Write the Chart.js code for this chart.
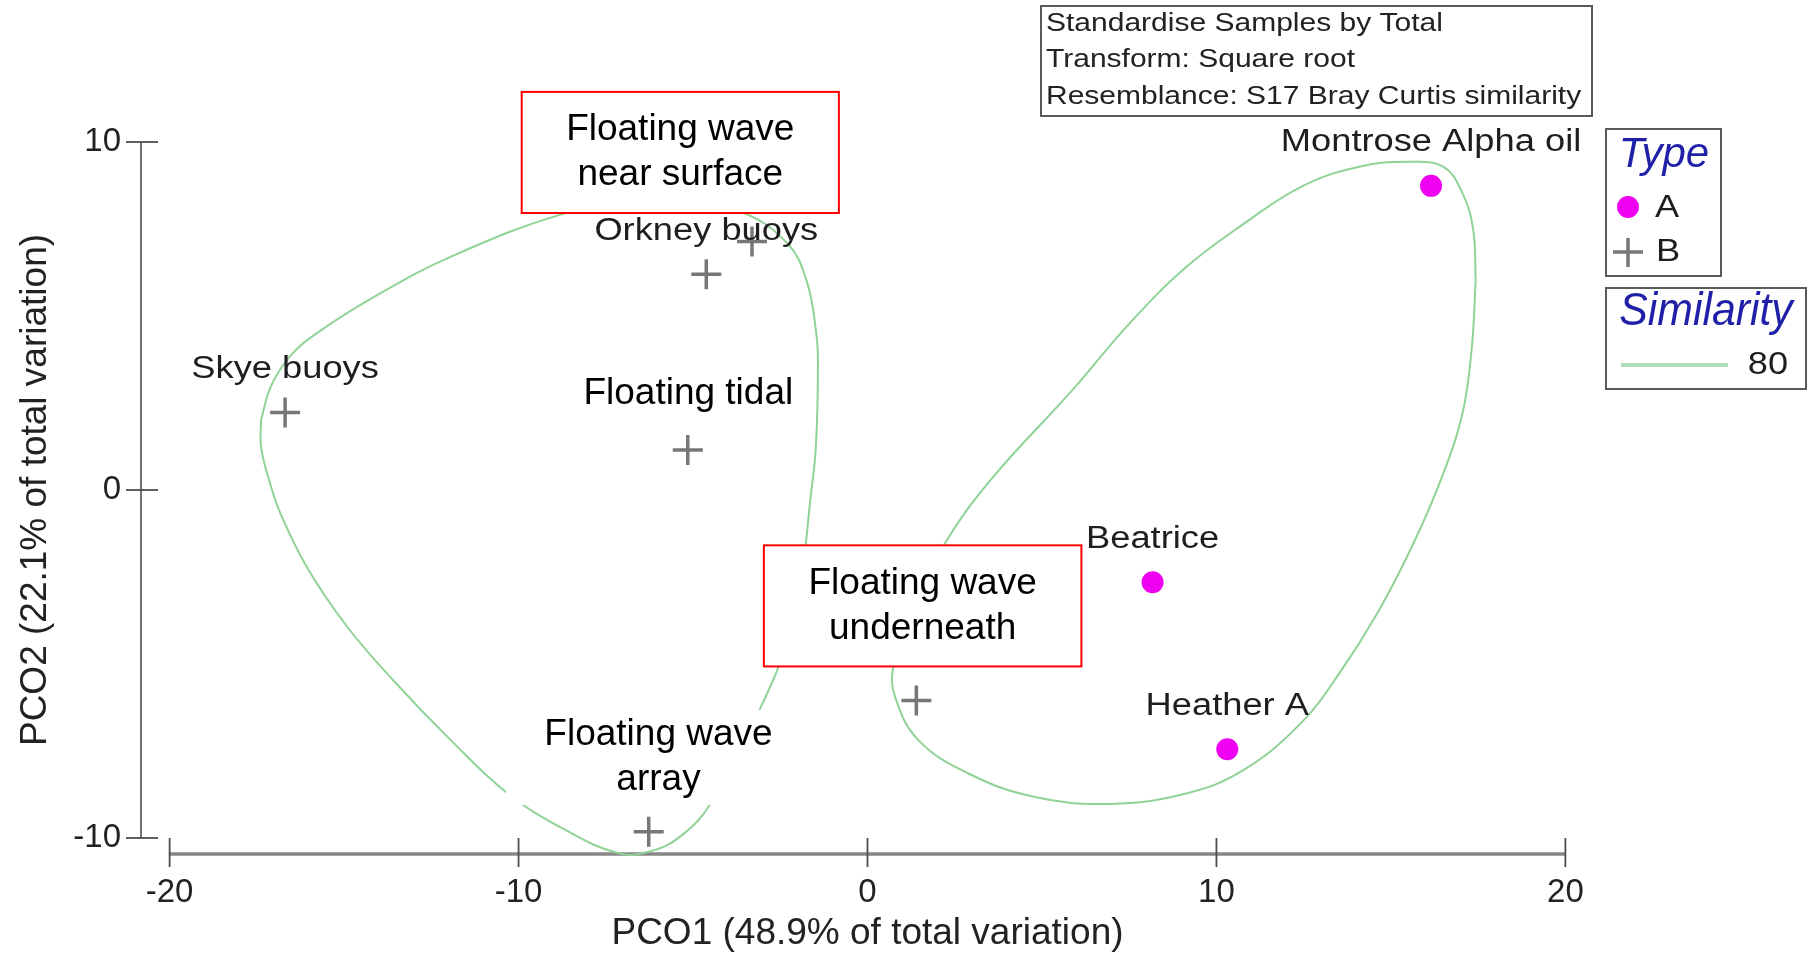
<!DOCTYPE html>
<html lang="en">
<head>
  <meta charset="UTF-8" />
  <title>PCO ordination</title>
  <style>
    html, body { margin: 0; padding: 0; background: #fff; }
    #wrap { width: 1808px; height: 956px; position: relative; }
  </style>
  <script src="https://cdn.jsdelivr.net/npm/chart.js@4"></script>
</head>
<body>
  <div id="wrap"><canvas id="pco"></canvas></div>
  <script>
    // axis ticks and titles
    const xTicks = [-20, -10, 0, 10, 20];
    const yTicks = [-10, 0, 10];
    const xTitle = 'PCO1 (48.9% of total variation)';
    const yTitle = 'PCO2 (22.1% of total variation)';

    // Type A samples (magenta dots)
    const typeANames = ['Montrose Alpha oil', 'Beatrice', 'Heather A'];
    const typeAX = [16.15, 8.17, 10.31];
    const typeAY = [8.74, -2.65, -7.45];

    // Type B samples (grey crosses) - the unnamed ones have their labels hidden by the added boxes
    const typeBNames = ['Skye buoys', 'Orkney buoys', '', '', '', ''];
    const typeBX = [-16.69, -4.62, -3.31, -5.15, -6.27, 1.40];
    const typeBY = [2.23, 6.20, 7.14, 1.15, -9.82, -6.05];

    // 80% similarity outlines (first point repeated to close)
    const leftRingX = [-17.38, -17.38, -17.15, -16.83, -16.07, -14.91, -13.60, -11.95, -10.31, -8.66, -7.13, -6.25, -5.37, -4.49, -2.96, -2.30, -1.86, -1.64, -1.48, -1.42, -1.48, -1.75, -2.30, -3.63, -5.35, -7.07, -8.67, -11.95, -14.14, -15.79, -16.56, -17.10, -17.38];
    const leftRingY = [2.01, 1.24, 0.29, -0.66, -2.21, -3.93, -5.46, -7.18, -8.72, -9.77, -10.44, -10.39, -9.96, -9.00, -6.03, -4.31, -2.20, -0.29, 1.24, 3.65, 4.60, 6.03, 7.09, 7.99, 8.19, 8.13, 7.95, 6.70, 5.55, 4.50, 3.83, 2.97, 2.01];
    const rightRingX = [17.43, 17.32, 17.05, 16.43, 15.60, 14.61, 13.52, 12.42, 10.77, 9.13, 6.94, 4.74, 2.88, 1.45, 0.79, 0.74, 1.24, 2.22, 3.53, 5.87, 7.51, 9.15, 10.80, 12.44, 14.09, 15.51, 16.50, 17.05, 17.36, 17.43];
    const rightRingY = [6.03, 4.12, 2.20, 0.29, -1.63, -3.54, -5.27, -6.70, -8.05, -8.72, -9.02, -8.81, -8.14, -7.18, -5.94, -5.08, -3.45, -1.53, 0.29, 2.87, 4.79, 6.42, 7.66, 8.72, 9.29, 9.43, 9.29, 8.53, 7.47, 6.03];

    // boxes pasted over the plot (corners in data units)
    const notes = [
      { lines: ['Floating wave', 'near surface'], from: [-9.91, 11.44], to: [-0.82, 7.96], edge: '#ff0000' },
      { lines: ['Floating tidal'], from: [-8.79, 3.65], to: [-1.48, 1.87], edge: null },
      { lines: ['Floating wave', 'array'], from: [-10.36, -6.32], to: [-1.62, -9.05], edge: null },
      { lines: ['Floating wave', 'underneath'], from: [-2.97, -1.59], to: [6.13, -5.07], edge: '#ff0000' }
    ];
    const infoLines = ['Standardise Samples by Total', 'Transform: Square root', 'Resemblance: S17 Bray Curtis similarity'];

    const FONT = "'Liberation Sans', Arial, Helvetica, sans-serif";
    const MAGENTA = '#f000f0';
    const CROSS = '#777777';
    const RING = '#8fd396';
    const LEGEND_BLUE = '#1f1fa8';

    const toPoints = (xs, ys) => xs.map((v, i) => ({ x: v, y: ys[i] }));

    // text drawn a little wider than the font, like the exported plot
    function wideText(ctx, text, x, y, size, sx, align, style) {
      ctx.save();
      ctx.translate(x, y);
      ctx.scale(sx, 1);
      ctx.font = (style || '') + ' ' + size + 'px ' + FONT;
      ctx.textAlign = align || 'center';
      ctx.textBaseline = 'middle';
      ctx.fillText(text, 0, 0);
      ctx.restore();
    }

    const decor = {
      id: 'pcoDecor',
      beforeDatasetsDraw(chart) {
        const { ctx, chartArea, scales: { x, y } } = chart;
        ctx.save();
        // x axis line
        ctx.strokeStyle = '#878787';
        ctx.lineWidth = 3.5;
        ctx.beginPath();
        ctx.moveTo(x.getPixelForValue(xTicks[0]), chartArea.bottom);
        ctx.lineTo(x.getPixelForValue(xTicks[xTicks.length - 1]), chartArea.bottom);
        ctx.stroke();
        // y axis line
        ctx.strokeStyle = '#707070';
        ctx.lineWidth = 2;
        ctx.beginPath();
        ctx.moveTo(chartArea.left, y.getPixelForValue(yTicks[yTicks.length - 1]));
        ctx.lineTo(chartArea.left, y.getPixelForValue(yTicks[0]));
        ctx.stroke();
        // tick marks cross the axis lines
        ctx.strokeStyle = '#4d4d4d';
        ctx.lineWidth = 1.8;
        xTicks.forEach(v => {
          const px = x.getPixelForValue(v);
          ctx.beginPath();
          ctx.moveTo(px, chartArea.bottom - 16);
          ctx.lineTo(px, chartArea.bottom + 13);
          ctx.stroke();
        });
        yTicks.forEach(v => {
          const py = y.getPixelForValue(v);
          ctx.beginPath();
          ctx.moveTo(chartArea.left - 15, py);
          ctx.lineTo(chartArea.left + 17, py);
          ctx.stroke();
        });
        ctx.restore();
      },
      afterDatasetsDraw(chart) {
        const { ctx, scales: { x, y } } = chart;
        ctx.save();
        // sample labels above the symbols
        ctx.fillStyle = '#1e1e1e';
        [[0, typeANames], [1, typeBNames]].forEach(([idx, names]) => {
          chart.getDatasetMeta(idx).data.forEach((pt, i) => {
            if (names[i]) wideText(ctx, names[i], pt.x, pt.y - 43, 31, 1.17, 'center');
          });
        });
        // pasted text boxes
        notes.forEach(n => {
          const x1 = x.getPixelForValue(n.from[0]), x2 = x.getPixelForValue(n.to[0]);
          const y1 = y.getPixelForValue(n.from[1]), y2 = y.getPixelForValue(n.to[1]);
          ctx.fillStyle = '#ffffff';
          ctx.fillRect(x1, y1, x2 - x1, y2 - y1);
          if (n.edge) {
            ctx.strokeStyle = n.edge;
            ctx.lineWidth = 2;
            ctx.strokeRect(x1, y1, x2 - x1, y2 - y1);
          }
          ctx.fillStyle = '#000000';
          const cx = (x1 + x2) / 2, cy = (y1 + y2) / 2, lh = 45;
          n.lines.forEach((t, i) => {
            wideText(ctx, t, cx, cy + (i - (n.lines.length - 1) / 2) * lh, 37, 1, 'center');
          });
        });
        ctx.restore();
      },
      afterDraw(chart) {
        const { ctx } = chart;
        ctx.save();
        ctx.strokeStyle = '#5a5a5a';
        ctx.lineWidth = 2;
        // transform/resemblance note
        ctx.fillStyle = '#fff';
        ctx.fillRect(1041, 6, 551, 110);
        ctx.strokeRect(1041, 6, 551, 110);
        ctx.fillStyle = '#222';
        infoLines.forEach((t, i) => wideText(ctx, t, 1046, 24 + i * 36.5, 25, 1.2, 'left'));

        // Type legend
        ctx.strokeRect(1606, 129, 115, 147);
        ctx.fillStyle = LEGEND_BLUE;
        wideText(ctx, 'Type', 1664, 155, 42, 1, 'center', 'italic');
        ctx.fillStyle = MAGENTA;
        ctx.beginPath();
        ctx.arc(1628, 207, 11, 0, Math.PI * 2);
        ctx.fill();
        ctx.strokeStyle = CROSS;
        ctx.lineWidth = 3.5;
        ctx.beginPath();
        ctx.moveTo(1613, 252); ctx.lineTo(1643, 252);
        ctx.moveTo(1628, 238); ctx.lineTo(1628, 267);
        ctx.stroke();
        ctx.fillStyle = '#1e1e1e';
        wideText(ctx, 'A', 1655, 208, 31, 1.17, 'left');
        wideText(ctx, 'B', 1656, 252, 31, 1.17, 'left');

        // Similarity legend
        ctx.strokeStyle = '#5a5a5a';
        ctx.lineWidth = 2;
        ctx.strokeRect(1606, 288, 200, 101);
        ctx.fillStyle = LEGEND_BLUE;
        wideText(ctx, 'Similarity', 1706, 312, 46, 0.93, 'center', 'italic');
        ctx.strokeStyle = '#b3dcbb';
        ctx.lineWidth = 4;
        ctx.beginPath();
        ctx.moveTo(1621, 365); ctx.lineTo(1728, 365);
        ctx.stroke();
        ctx.fillStyle = '#1e1e1e';
        wideText(ctx, '80', 1768, 365, 31, 1.17, 'center');
        ctx.restore();
      }
    };

    const tickFont = { family: FONT, size: 33 };
    const titleFont = { family: FONT, size: 37 };

    new Chart(document.getElementById('pco'), {
      type: 'scatter',
      data: {
        datasets: [
          {
            label: 'A',
            data: toPoints(typeAX, typeAY),
            pointStyle: 'circle',
            pointRadius: 11,
            backgroundColor: MAGENTA,
            borderWidth: 0,
            clip: false
          },
          {
            label: 'B',
            data: toPoints(typeBX, typeBY),
            pointStyle: 'cross',
            pointRadius: 15,
            borderColor: CROSS,
            borderWidth: 3.5,
            clip: false
          },
          {
            label: 'Similarity 80 (left)',
            data: toPoints(leftRingX, leftRingY),
            showLine: true,
            tension: 0.4,
            capBezierPoints: false,
            pointRadius: 0,
            borderColor: RING,
            borderWidth: 2,
            fill: false,
            clip: false
          },
          {
            label: 'Similarity 80 (right)',
            data: toPoints(rightRingX, rightRingY),
            showLine: true,
            tension: 0.4,
            capBezierPoints: false,
            pointRadius: 0,
            borderColor: RING,
            borderWidth: 2,
            fill: false,
            clip: false
          }
        ]
      },
      options: {
        responsive: true,
        maintainAspectRatio: false,
        animation: false,
        layout: { padding: { top: 126, right: 214, bottom: 0, left: 0 } },
        plugins: {
          legend: { display: false },
          tooltip: { enabled: false }
        },
        scales: {
          x: {
            type: 'linear',
            min: -20.82,
            max: 20.82,
            afterBuildTicks: s => { s.ticks = xTicks.map(v => ({ value: v })); },
            afterFit: s => { s.height = 102; },
            grid: { display: false, drawTicks: false },
            border: { display: false },
            ticks: { font: tickFont, color: '#222', padding: 19, maxRotation: 0, autoSkip: false },
            title: { display: true, text: xTitle, font: titleFont, color: '#222', padding: { top: 0, bottom: 0 } }
          },
          y: {
            type: 'linear',
            min: -10.46,
            max: 10.46,
            afterBuildTicks: s => { s.ticks = yTicks.map(v => ({ value: v })); },
            afterFit: s => { s.width = 141; },
            grid: { display: false, drawTicks: false },
            border: { display: false },
            ticks: { font: tickFont, color: '#222', padding: 20, autoSkip: false },
            title: { display: true, text: yTitle, font: titleFont, color: '#222', padding: { top: 14, bottom: 0 } }
          }
        }
      },
      plugins: [decor]
    });
  </script>
</body>
</html>
